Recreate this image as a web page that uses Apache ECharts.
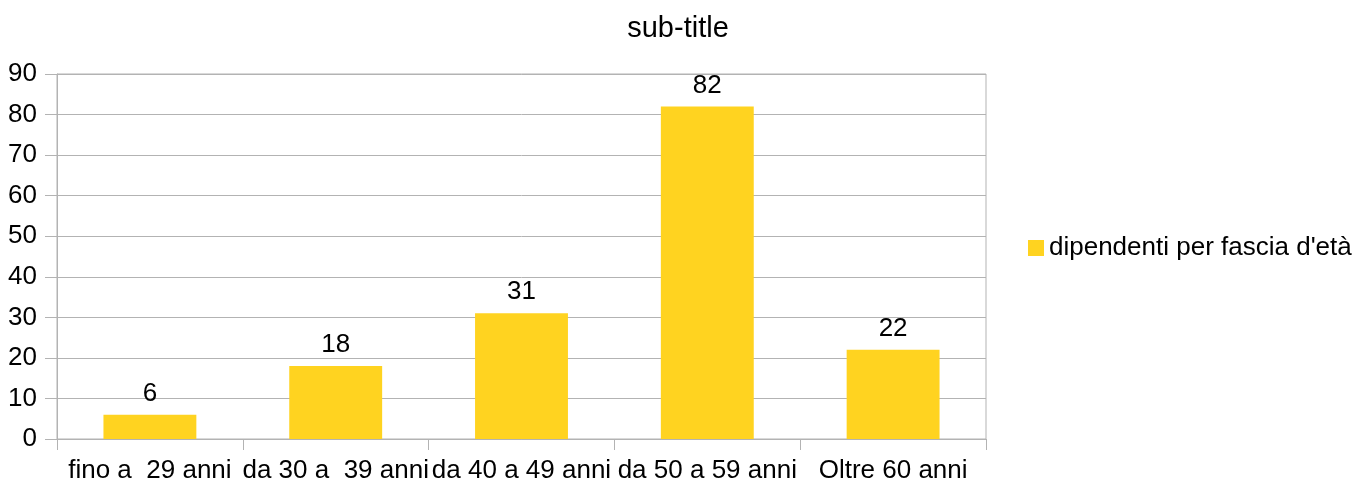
<!DOCTYPE html>
<html><head><meta charset="utf-8">
<script src="https://cdn.jsdelivr.net/npm/echarts@6/dist/echarts.min.js"></script>
<style>html,body{margin:0;padding:0;background:#fff}#c{width:1352px;height:484px}</style>
</head><body><div id="c"></div>
<script>
const categories = ["fino a  29 anni", "da 30 a  39 anni", "da 40 a 49 anni", "da 50 a 59 anni", "Oltre 60 anni"];
const values = [6, 18, 31, 82, 22];
const seriesName = "dipendenti per fascia d'età";
const titleText = "sub-title";

const chart = echarts.init(document.getElementById('c'));
const font = "'Liberation Sans', Arial, sans-serif";
chart.setOption({
  animation: false,
  title: { text: titleText, left: 673, top: 9, textAlign: 'center',
    textStyle: { fontFamily: font, fontSize: 29, fontWeight: 'normal', color: '#000' } },
  legend: { left: 1023, top: 230, itemWidth: 16, itemHeight: 16, icon: 'rect', itemGap: 8,
    textStyle: { fontFamily: font, fontSize: 26, color: '#000', padding: [0,0,0,0] },
    data: [seriesName] },
  grid: { left: 57, right: 366, top: 74, bottom: 45, show: true, borderColor: '#b3b3b3', borderWidth: 1 },
  xAxis: { type: 'category', data: categories,
    axisLine: { lineStyle: { color: '#b3b3b3' } },
    axisTick: { show: true, length: 11, lineStyle: { color: '#b3b3b3' } },
    axisLabel: { interval: 0, margin: 19, fontFamily: font, fontSize: 26, color: '#000' } },
  yAxis: { type: 'value', min: 0, max: 90, interval: 10,
    axisLine: { show: true, lineStyle: { color: '#b3b3b3' } },
    axisTick: { show: true, length: 12, lineStyle: { color: '#b3b3b3' } },
    splitLine: { lineStyle: { color: '#b3b3b3' } },
    axisLabel: { margin: 20, fontFamily: font, fontSize: 26, color: '#000' } },
  series: [{ name: seriesName, type: 'bar', data: values, barCategoryGap: '50%',
    itemStyle: { color: '#FFD320' },
    label: { show: true, position: 'top', distance: 8, fontFamily: font, fontSize: 26, color: '#000' } }]
});
</script></body></html>
